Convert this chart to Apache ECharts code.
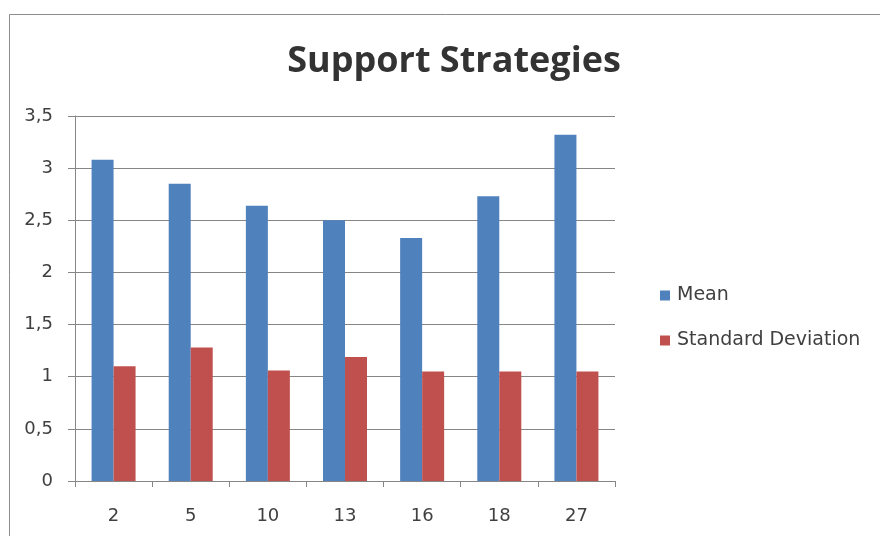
<!DOCTYPE html>
<html>
<head>
<meta charset="utf-8">
<script src="https://cdn.jsdelivr.net/npm/echarts@6/dist/echarts.min.js"></script>
<style>html,body{margin:0;padding:0;background:#fff}#chart{width:880px;height:536px}</style>
</head>
<body>
<div id="chart"></div>
<script>
var categories = ['2', '5', '10', '13', '16', '18', '27'];
var meanValues = [3.08, 2.85, 2.64, 2.50, 2.33, 2.73, 3.32];
var sdValues = [1.10, 1.28, 1.06, 1.19, 1.05, 1.05, 1.05];
var yTicks = [0, 0.5, 1, 1.5, 2, 2.5, 3, 3.5];
var seriesNames = ['Mean', 'Standard Deviation'];

var chart = echarts.init(document.getElementById('chart'));
var labelFont = { fontFamily: 'DejaVu Sans', fontSize: 18, color: '#404040' };
chart.setOption({
  animation: false,
  backgroundColor: '#fff',
  title: {
    text: 'Support Strategies',
    left: 449, top: 39, textAlign: 'center',
    textStyle: { fontFamily: 'Open Sans', fontWeight: 'bold', fontSize: 36, color: '#333333' }
  },
  graphic: [{
    type: 'rect', left: 7, top: 12, z: -1,
    shape: { width: 900, height: 600 },
    style: { fill: 'none', stroke: '#8c8c8c', lineWidth: 1 }
  }],
  legend: {
    orient: 'vertical', left: 655, top: 281, itemGap: 26,
    itemWidth: 10, itemHeight: 10, icon: 'rect',
    textStyle: { fontFamily: 'DejaVu Sans', fontSize: 19, color: '#404040', padding: [0, 0, 0, 2] },
    data: seriesNames
  },
  grid: { left: 75, top: 116, width: 540, height: 365, containLabel: false },
  xAxis: {
    type: 'category', data: categories,
    axisLine: { lineStyle: { color: '#868686' } },
    axisTick: { show: true, length: 6, lineStyle: { color: '#868686' } },
    axisLabel: Object.assign({ margin: 26 }, labelFont)
  },
  yAxis: {
    type: 'value', min: 0, max: 3.5, interval: 0.5,
    axisLine: { show: true, lineStyle: { color: '#868686' } },
    axisTick: { show: true, length: 7, lineStyle: { color: '#868686' } },
    splitLine: { lineStyle: { color: '#868686' } },
    axisLabel: Object.assign({ margin: 22, formatter: function (v) {
      return yTicks.indexOf(v) >= 0 ? String(v).replace('.', ',') : '';
    } }, labelFont)
  },
  series: [
    { name: seriesNames[0], type: 'bar', data: meanValues, barWidth: 22, barGap: '0%',
      itemStyle: { color: '#4F81BD' } },
    { name: seriesNames[1], type: 'bar', data: sdValues, barWidth: 22, barGap: '0%',
      itemStyle: { color: '#C0504D' } }
  ]
});
</script>
</body>
</html>
